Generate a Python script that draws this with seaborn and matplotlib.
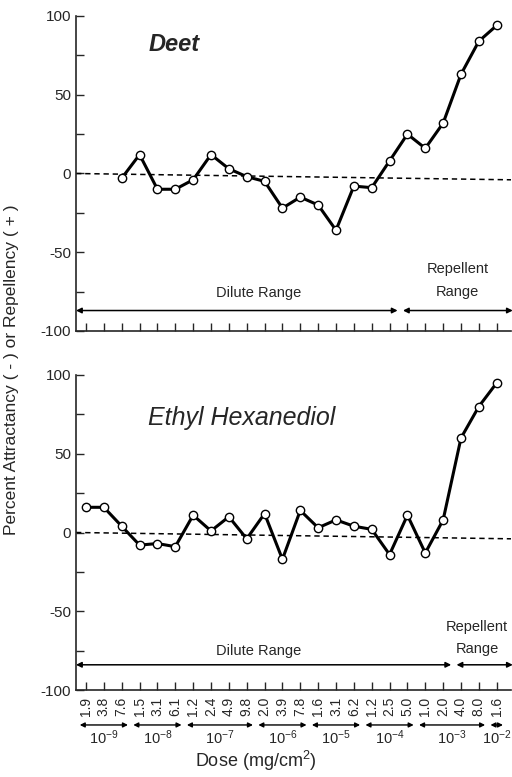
import numpy as np
import pandas as pd
import matplotlib
matplotlib.use("Agg")
import matplotlib.pyplot as plt
import seaborn as sns

# dose labels (mantissa) and their decade groups
dose_labels = ["1.9", "3.8", "7.6", "1.5", "3.1", "6.1", "1.2", "2.4", "4.9", "9.8",
               "2.0", "3.9", "7.8", "1.6", "3.1", "6.2", "1.2", "2.5", "5.0",
               "1.0", "2.0", "4.0", "8.0", "1.6"]
decades = [-9, -9, -9, -8, -8, -8, -7, -7, -7, -7, -6, -6, -6, -5, -5, -5,
           -4, -4, -4, -3, -3, -3, -3, -2]

# percent attractancy (-) / repellency (+)
deet = [None, None, -3, 12, -10, -10, -4, 12, 3, -2, -5, -22, -15, -20, -36,
        -8, -9, 8, 25, 16, 32, 63, 84, 94]
ethyl = [16, 16, 4, -8, -7, -9, 11, 1, 10, -4, 12, -17, 14, 3, 8, 4, 2,
         -14, 11, -13, 8, 60, 80, 95]

# reference (dashed) baseline, value at left and right edge
baseline = [0, -4]

# range split: last dilute dose index for each panel
dilute_end = {"Deet": 17, "Ethyl Hexanediol": 20}

sns.set_style("ticks")
plt.rcParams["font.family"] = ["Liberation Sans", "DejaVu Sans"]
plt.rcParams["mathtext.default"] = "regular"
plt.rcParams["axes.unicode_minus"] = False

fig = plt.figure(figsize=(5.12, 7.77), dpi=100)
ax_top = fig.add_axes([76 / 512, 1 - 331 / 777, 435 / 512, 315 / 777])
ax_bot = fig.add_axes([76 / 512, 1 - 690 / 777, 435 / 512, 315 / 777])

x_idx = np.arange(len(dose_labels))
xlim = (-0.56, 23.8)

panels = [(ax_top, deet, "Deet", "bold", 17, 82, -76, 20.8, -68),
          (ax_bot, ethyl, "Ethyl Hexanediol", "normal", 18, 73, -75, 21.9, -67)]

for ax, vals, name, weight, fs, ty, ry, rx, rpy in panels:
    df = pd.DataFrame({"x": x_idx, "y": vals}).dropna()
    base = pd.DataFrame({"x": list(xlim), "y": baseline})
    sns.lineplot(data=base, x="x", y="y", ax=ax, color="black", lw=1.1,
                 linestyle=(0, (3.5, 2.5)))
    sns.lineplot(data=df, x="x", y="y", ax=ax, color="black", lw=2.2,
                 marker="o", markersize=6, markerfacecolor="white",
                 markeredgecolor="black", markeredgewidth=1.0)
    ax.set_xlim(*xlim)
    ax.set_ylim(-100, 100)
    ax.set_yticks([-100, -50, 0, 50, 100])
    ax.set_yticks([-75, -25, 25, 75], minor=True)
    ax.set_xticks(x_idx)
    ax.tick_params(axis="both", which="both", direction="in", length=6, width=1,
                   labelsize=11)
    ax.set_xlabel("")
    ax.set_ylabel("")
    sns.despine(ax=ax)
    for s in ax.spines.values():
        s.set_linewidth(1.2)

    ax.text(3.5, ty, name, fontsize=fs, fontstyle="italic", fontweight=weight,
            va="center", ha="left")

    split = dilute_end[name]
    arrow_y = -87 if name == "Deet" else -84
    ax.annotate("", xy=(xlim[0], arrow_y), xytext=(split + 0.45, arrow_y),
                arrowprops=dict(arrowstyle="<|-|>", color="black", lw=1.1,
                                mutation_scale=8, shrinkA=0, shrinkB=0))
    ax.annotate("", xy=(split + 0.75, arrow_y), xytext=(xlim[1] + 0.1, arrow_y),
                arrowprops=dict(arrowstyle="<|-|>", color="black", lw=1.1,
                                mutation_scale=8, shrinkA=0, shrinkB=0))
    ax.text(9.65, ry, "Dilute Range", ha="center", va="center", fontsize=10.5)
    ax.text(rx, rpy, "Repellent\nRange", ha="center", va="center", fontsize=10.5,
            linespacing=1.75)

ax_top.set_xticklabels([])
ax_bot.set_xticklabels(dose_labels, rotation=90, fontsize=10)
ax_bot.tick_params(axis="x", pad=5)

# decade brackets under the dose labels
trans = ax_bot.get_xaxis_transform()
for d in sorted(set(decades)):
    members = [i for i, v in enumerate(decades) if v == d]
    lo, hi = members[0] - 0.35, members[-1] + 0.35
    ax_bot.annotate("", xy=(lo, -0.111), xytext=(hi, -0.111), xycoords=trans,
                    textcoords=trans, annotation_clip=False,
                    arrowprops=dict(arrowstyle="<|-|>", color="black", lw=1.0,
                                    mutation_scale=7, shrinkA=0, shrinkB=0))
    ax_bot.text((members[0] + members[-1]) / 2, -0.152, "10$^{%d}$" % d,
                transform=trans, ha="center", va="center", fontsize=10.5)

fig.text(256 / 512, 1 - 761 / 777, "Dose (mg/cm$^2$)", ha="center", va="center",
         fontsize=13)
fig.text(12 / 512, 1 - 370 / 777, "Percent Attractancy ( - ) or Repellency ( + )",
         rotation=90, ha="center", va="center", fontsize=12.5)

fig.savefig("out.png", dpi=100)
